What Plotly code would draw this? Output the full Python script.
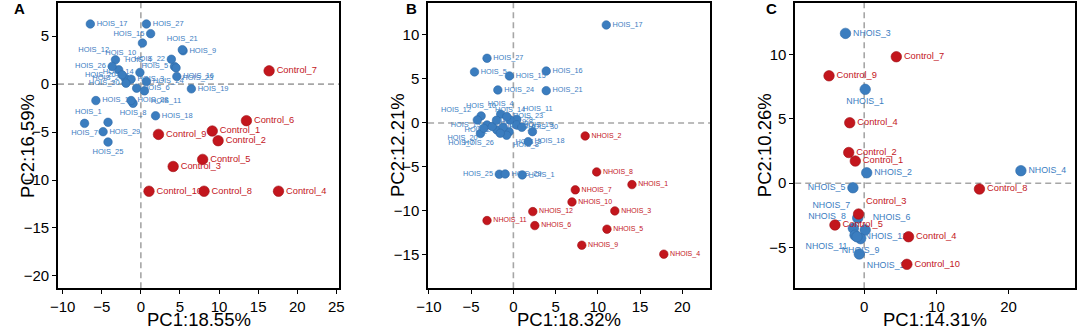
import plotly.graph_objects as go

# ---------------- Panel A data ----------------
a_hois_names = ["HOIS_1", "HOIS_2", "HOIS_3", "HOIS_4", "HOIS_5", "HOIS_6", "HOIS_7", "HOIS_8", "HOIS_9", "HOIS_10",
                "HOIS_11", "HOIS_12", "HOIS_13", "HOIS_14", "HOIS_15", "HOIS_16", "HOIS_17", "HOIS_18", "HOIS_19", "HOIS_20",
                "HOIS_21", "HOIS_22", "HOIS_23", "HOIS_24", "HOIS_25", "HOIS_26", "HOIS_27", "HOIS_28", "HOIS_29", "HOIS_30"]
a_hois_x = [-4.2, -2.0, -1.25, -2.83, 4.3, -0.54, -7.2, -1.0, 5.4, 0.2,
            0.46, -3.25, -5.75, -0.12, 1.25, 4.6, -6.46, 1.88, 6.46, -2.4,
            5.3, 3.9, 4.5, 0.71, -4.2, -3.67, 0.71, -1.25, -4.83, -1.9]
a_hois_y = [-3.98, 0.63, 0.52, 1.5, 1.85, -0.42, -4.09, -2.0, 3.49, 4.29,
            -0.7, 2.54, -1.71, 1.22, 5.27, 0.8, 6.28, -3.3, -0.49, 0.97,
            3.6, 2.6, 1.7, 0.27, -6.04, 1.85, 6.28, -1.71, -4.96, 0.1]
a_hois_pos = ["top left", "middle left", "middle right", "top right", "middle left", "middle right", "bottom center",
              "bottom center", "middle right", "bottom left",
              "bottom right", "top left", "middle right", "middle left", "middle left", "middle right", "middle right",
              "middle right", "middle right", "middle left",
              "top center", "middle left", "bottom right", "middle right", "bottom center", "middle left", "middle right",
              "middle right", "middle right", "middle left"]

a_ctrl_names = ["Control_1", "Control_2", "Control_3", "Control_4", "Control_5",
                "Control_6", "Control_7", "Control_8", "Control_9", "Control_10"]
a_ctrl_x = [9.13, 9.88, 4.13, 17.6, 7.9, 13.5, 16.4, 8.08, 2.25, 1.04]
a_ctrl_y = [-4.89, -5.9, -8.59, -11.17, -7.85, -3.81, 1.39, -11.17, -5.24, -11.17]

# ---------------- Panel B data ----------------
b_hois_names = ["HOIS_1", "HOIS_2", "HOIS_3", "HOIS_4", "HOIS_5", "HOIS_6", "HOIS_7", "HOIS_8", "HOIS_9", "HOIS_10",
                "HOIS_11", "HOIS_12", "HOIS_13", "HOIS_14", "HOIS_15", "HOIS_16", "HOIS_17", "HOIS_18", "HOIS_19", "HOIS_20",
                "HOIS_21", "HOIS_22", "HOIS_23", "HOIS_24", "HOIS_25", "HOIS_26", "HOIS_27", "HOIS_28", "HOIS_29", "HOIS_30"]
b_hois_x = [1.05, -1.95, -0.5, -1.5, -4.6, -1.2, -3.9, -0.8, 2.26, -3.82,
            0.4, -4.27, -3.12, -0.39, -0.47, 3.89, 11.0, 1.75, 0.39, -3.5,
            3.89, -2.5, -0.78, -1.84, -1.67, -1.56, -3.12, -2.0, -0.97, 1.0]
b_hois_y = [-5.91, -0.8, -1.0, 1.0, 5.8, -0.5, -1.2, -1.4, -0.99, 0.8,
            0.4, 0.34, -0.23, 0.34, 5.34, 5.9, 11.14, -2.13, -0.23, -0.6,
            3.67, -0.4, 0.72, 3.75, -5.83, -1.17, 7.35, 0.3, -5.8, -0.5]
b_hois_pos = ["middle right", "middle left", "bottom right", "top center", "middle right", "middle right", "bottom left",
              "bottom right", "top left", "top center",
              "top right", "top left", "middle left", "top center", "middle right", "middle right", "middle right",
              "middle right", "middle right", "bottom left",
              "middle right", "middle right", "middle right", "middle right", "middle left", "bottom left", "middle right",
              "middle right", "middle right", "middle right"]

b_nhois_names = ["NHOIS_1", "NHOIS_2", "NHOIS_3", "NHOIS_4", "NHOIS_5", "NHOIS_6",
                 "NHOIS_7", "NHOIS_8", "NHOIS_9", "NHOIS_10", "NHOIS_11", "NHOIS_12"]
b_nhois_x = [14.04, 8.5, 12.01, 17.81, 11.08, 2.54, 7.33, 9.86, 8.1, 6.94, -3.12, 2.3]
b_nhois_y = [-7.01, -1.48, -10.0, -14.92, -12.08, -11.67, -7.61, -5.57, -13.9, -8.98, -11.1, -10.08]

# ---------------- Panel C data ----------------
c_nhois_names = ["NHOIS_1", "NHOIS_2", "NHOIS_3", "NHOIS_4", "NHOIS_5", "NHOIS_6",
                 "NHOIS_7", "NHOIS_8", "NHOIS_9", "NHOIS_10", "NHOIS_11", "NHOIS_12"]
c_nhois_x = [0.14, 0.35, -2.59, 21.7, -1.56, 0.14, -0.9, -1.5, -0.5, -0.68, -1.27, -1.0]
c_nhois_y = [7.28, 0.81, 11.62, 0.97, -0.35, -3.63, -2.7, -3.5, -4.3, -5.49, -4.03, -4.15]
c_nhois_pos = ["bottom center", "middle right", "middle right", "middle right", "middle left", "top right",
               "top left", "top left", "bottom center", "bottom right", "bottom left", "middle right"]

c_ctrl_names = ["Control_7", "Control_9", "Control_4", "Control_2", "Control_1",
                "Control_3", "Control_5", "Control_8", "Control_4", "Control_10"]
c_ctrl_x = [4.45, -4.87, -2.0, -2.14, -1.23, -0.78, -4.05, 15.96, 6.14, 5.91]
c_ctrl_y = [9.81, 8.33, 4.69, 2.38, 1.72, -2.39, -3.24, -0.45, -4.15, -6.29]
c_ctrl_pos = ["middle right", "middle right", "middle right", "middle right", "middle right",
              "top right", "middle right", "middle right", "middle right", "middle right"]

# ---------------- Axis labels ----------------
panel_letters = ["A", "B", "C"]
x_titles = ["PC1:18.55%", "PC1:18.32%", "PC1:14.31%"]
y_titles = ["PC2:16.59%", "PC2:12.21%", "PC2:10.26%"]
x_ticks = [[-10, -5, 0, 5, 10, 15, 20, 25], [-10, -5, 0, 5, 10, 15, 20], [0, 10, 20]]
y_ticks = [[-20, -15, -10, -5, 0, 5], [-15, -10, -5, 0, 5, 10], [-5, 0, 5, 10]]
x_ranges = [[-10.6, 25.4], [-10.1, 23.3], [-9.55, 29.2]]
y_ranges = [[-21.3, 8.5], [-18.8, 13.67], [-8.15, 14.0]]

BLUE = "#3b7dbf"
BLUE_EDGE = "#2d6aa8"
RED = "#c3161d"
RED_EDGE = "#a01017"
FONT = "Liberation Sans, Arial, sans-serif"

W, H = 1084, 329
x_domains = [[46.7 / W, 332.7 / W], [422.7 / W, 709.3 / W], [795.7 / W, 1080 / W]]
y_domain = [1 - 288.3 / H, 1 - 2.7 / H]

fig = go.Figure()


def add_group(idx, xs, ys, names, color, edge, msize, fsize, pos):
    suffix = "" if idx == 0 else str(idx + 1)
    fig.add_trace(go.Scatter(
        x=xs, y=ys, text=names, mode="markers+text",
        textposition=pos,
        textfont=dict(color=color, size=fsize, family=FONT),
        marker=dict(color=color, size=msize, line=dict(color=edge, width=0.6)),
        cliponaxis=False, showlegend=False, hoverinfo="text",
        xaxis="x" + suffix, yaxis="y" + suffix,
    ))


add_group(0, a_hois_x, a_hois_y, a_hois_names, BLUE, BLUE_EDGE, 8.5, 7.5, a_hois_pos)
add_group(0, a_ctrl_x, a_ctrl_y, a_ctrl_names, RED, RED_EDGE, 10.5, 9.3, "middle right")
add_group(1, b_hois_x, b_hois_y, b_hois_names, BLUE, BLUE_EDGE, 8.5, 7.3, b_hois_pos)
add_group(1, b_nhois_x, b_nhois_y, b_nhois_names, RED, RED_EDGE, 8.5, 7.0, "middle right")
add_group(2, c_nhois_x, c_nhois_y, c_nhois_names, BLUE, BLUE_EDGE, 10.5, 8.8, c_nhois_pos)
add_group(2, c_ctrl_x, c_ctrl_y, c_ctrl_names, RED, RED_EDGE, 10.5, 9.3, c_ctrl_pos)

layout = dict(
    width=W, height=H,
    margin=dict(l=0, r=0, t=0, b=0),
    paper_bgcolor="white", plot_bgcolor="white",
    font=dict(family=FONT, color="black"),
    shapes=[], annotations=[],
)

for i in range(3):
    suffix = "" if i == 0 else str(i + 1)
    common = dict(showgrid=False, zeroline=False, showline=True, linecolor="black", linewidth=1.6,
                  mirror=True, ticks="outside", ticklen=4, tickwidth=1, tickcolor="black",
                  tickfont=dict(size=15, family=FONT, color="black"))
    layout["xaxis" + suffix] = dict(common, domain=x_domains[i], range=x_ranges[i],
                                    tickvals=x_ticks[i], anchor="y" + suffix)
    layout["yaxis" + suffix] = dict(common, domain=y_domain, range=y_ranges[i],
                                    tickvals=y_ticks[i], anchor="x" + suffix)
    xr = "x" + suffix
    yr = "y" + suffix
    layout["shapes"].append(dict(type="line", xref=xr, yref=yr + " domain", x0=0, x1=0, y0=0, y1=1,
                                 line=dict(color="#a6a6a6", width=1.6, dash="6px,4px"), layer="below"))
    layout["shapes"].append(dict(type="line", xref=xr + " domain", yref=yr, x0=0, x1=1, y0=0, y1=0,
                                 line=dict(color="#a6a6a6", width=1.6, dash="6px,4px"), layer="below"))
    xd = x_domains[i]
    layout["annotations"].append(dict(text=x_titles[i], xref="paper", yref="paper",
                                      x=(xd[0] + xd[1]) / 2, y=1 - 319 / H, showarrow=False,
                                      font=dict(size=18.5, family=FONT, color="black"),
                                      xanchor="center", yanchor="middle"))
    layout["annotations"].append(dict(text=y_titles[i], xref="paper", yref="paper",
                                      x=xd[0] - 31 / W, y=(y_domain[0] + y_domain[1]) / 2, showarrow=False,
                                      textangle=-90, font=dict(size=18.5, family=FONT, color="black"),
                                      xanchor="center", yanchor="middle"))
    layout["annotations"].append(dict(text="<b>" + panel_letters[i] + "</b>", xref="paper", yref="paper",
                                      x=[8, 406, 772][i] / W, y=1 - 8 / H, showarrow=False,
                                      font=dict(size=15, family=FONT, color="black"),
                                      xanchor="center", yanchor="middle"))

fig.update_layout(**layout)
fig.write_html("out.html", config={"displayModeBar": False})

# remove the browser's default page margin so the figure fills the window exactly
with open("out.html", "r", encoding="utf-8") as f:
    html = f.read()
html = html.replace("<body>", '<body style="margin:0;padding:0;overflow:hidden">', 1)
with open("out.html", "w", encoding="utf-8") as f:
    f.write(html)
